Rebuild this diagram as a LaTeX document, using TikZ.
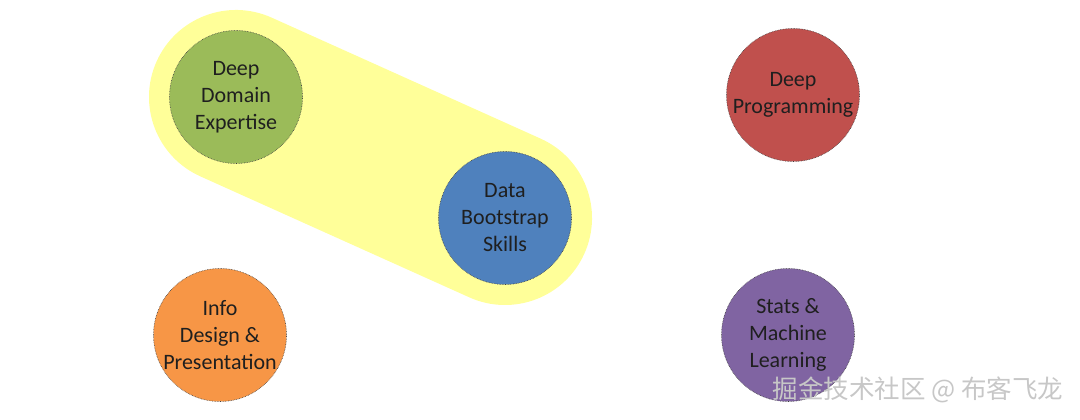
\documentclass[tikz,border=0pt]{standalone}
\usepackage{fontspec}
\setmainfont{Carlito}
\newfontfamily\cjk{Noto Sans CJK SC}
\usepackage{xcolor}
\usetikzlibrary{backgrounds}
\definecolor{skgreen}{HTML}{9BBB59}
\definecolor{skblue}{HTML}{4F81BD}
\definecolor{skred}{HTML}{C0504D}
\definecolor{skorange}{HTML}{F79646}
\definecolor{skpurple}{HTML}{8064A2}
\definecolor{skyellow}{HTML}{FFFF99}
\begin{document}
\begin{tikzpicture} [x=1pt, y=1pt,
            skill/.style={circle, draw=black!75, densely dotted, line width=0.6pt, minimum size=133pt, inner sep=0pt, align=center, text=black!88, font=\fontsize{22}{27}\selectfont},]
        \useasboundingbox (0,0) rectangle (1080,420);
        \node[skill, fill=skgreen](1) at (236,323){Deep\\Domain\\Expertise};
        \node[skill, fill=skblue](2) at (505,202){Data\\Bootstrap\\Skills};
        \node[skill, fill=skred](3) at (793,325){Deep\\Programming};
        \node[skill, fill=skorange](4) at (220,85){Info\\Design \&\\Presentation};
        \node[skill, fill=skpurple](5) at (788,85){Stats \&\\Machine\\Learning};
        \begin{scope}[on background layer]
        \draw[skyellow, line width=174pt, line cap=round] (1.center) -- (2.center);
        \end{scope}
        \node[text=black!22, font=\cjk\fontsize{25.5}{25.5}\selectfont, anchor=east](6) at (1067,30){掘金技术社区 @ 布客飞龙};
    \end{tikzpicture}
\end{document}
